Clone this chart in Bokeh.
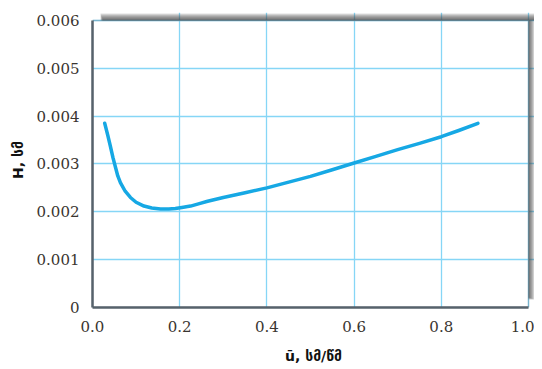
from bokeh.plotting import figure
from bokeh.models import Range1d, FixedTicker, BoxAnnotation
from bokeh.embed import file_html
from bokeh.resources import INLINE

# ---- data ----
u_vals = [0.028, 0.035, 0.041, 0.047, 0.053, 0.058, 0.064, 0.075, 0.087, 0.100,
          0.118, 0.136, 0.156, 0.175, 0.19, 0.205, 0.225, 0.245, 0.264,
          0.30, 0.35, 0.40, 0.45, 0.50, 0.55, 0.60, 0.65, 0.70, 0.75, 0.80, 0.84, 0.884]
h_vals = [0.00385, 0.00360, 0.00337, 0.00313, 0.00292, 0.00275, 0.00261, 0.00243, 0.00230, 0.00220,
          0.00212, 0.00208, 0.00206, 0.00206, 0.00207, 0.00209, 0.00212, 0.00217, 0.00222,
          0.00230, 0.00240, 0.00250, 0.00262, 0.00274, 0.00288, 0.00302, 0.00316, 0.00330, 0.00343, 0.00357, 0.00370, 0.00385]
x_ticks = [0.0, 0.2, 0.4, 0.6, 0.8, 1.0]
x_tick_labels = ["0.0", "0.2", "0.4", "0.6", "0.8", "1.0"]
y_ticks = [0.0, 0.001, 0.002, 0.003, 0.004, 0.005, 0.006]
y_tick_labels = ["0", "0.001", "0.002", "0.003", "0.004", "0.005", "0.006"]
x_label = "ū, სმ/წმ"
y_label = "H, სმ"

X_MAX, Y_MAX = 1.0, 0.006
FRAME_W, FRAME_H = 436, 289      # pixel size of the plot box
PAD_X, PAD_Y = 6, 8               # extra frame room for the drop shadow
dx = X_MAX / FRAME_W
dy = Y_MAX / FRAME_H

p = figure(width=534, height=366, output_backend="svg", toolbar_location=None,
           x_range=Range1d(0, X_MAX + PAD_X * dx), y_range=Range1d(0, Y_MAX + PAD_Y * dy),
           min_border_left=92, min_border_right=0, min_border_top=12, min_border_bottom=57)
p.outline_line_color = None
p.background_fill_color = "white"
p.border_fill_color = "white"

# drop shadow (top and right strips), darker near the box
for k in range(1, 8):
    p.add_layout(BoxAnnotation(left=8 * dx + (7 - k) * 0.4 * dx, right=X_MAX + 6 * dx,
                               bottom=Y_MAX, top=Y_MAX + k * dy,
                               fill_color="#444444", fill_alpha=0.17, line_color=None,
                               level="underlay"))
for k in range(1, 7):
    p.add_layout(BoxAnnotation(left=X_MAX, right=X_MAX + k * dx,
                               bottom=8 * dy + (6 - k) * 0.4 * dy, top=Y_MAX,
                               fill_color="#444444", fill_alpha=0.18, line_color=None,
                               level="underlay"))

# grid
p.xgrid.ticker = FixedTicker(ticks=x_ticks)
p.ygrid.ticker = FixedTicker(ticks=y_ticks)
for g in (p.xgrid, p.ygrid):
    g.grid_line_color = "#86d6f6"
    g.grid_line_width = 1.3
p.xgrid.bounds = (0, Y_MAX)
p.ygrid.bounds = (0, X_MAX)

# box outline (top/right); left/bottom come from the axis lines
p.add_layout(BoxAnnotation(left=0, right=X_MAX, bottom=0, top=Y_MAX,
                           fill_color=None, line_color="#56626b", line_width=1.5))

# curve
p.line(u_vals, h_vals, line_color="#16a8e4", line_width=3.5,
       line_cap="round", line_join="round")

# axes
for ax in (p.xaxis[0], p.yaxis[0]):
    ax.axis_line_color = "#56626b"
    ax.axis_line_width = 2.5
    ax.major_tick_line_color = None
    ax.minor_tick_line_color = None
    ax.major_label_text_font = "DejaVu Serif"
    ax.major_label_text_font_size = "15px"
    ax.major_label_text_color = "#3a3530"
    ax.axis_label_text_font = "DejaVu Sans"
    ax.axis_label_text_font_style = "bold"
    ax.axis_label_text_font_size = "14px"
    ax.axis_label_text_color = "#111111"

p.xaxis.bounds = (0, X_MAX)
p.yaxis.bounds = (0, Y_MAX)

p.xaxis.ticker = FixedTicker(ticks=x_ticks)
p.xaxis.major_label_overrides = dict(zip(x_ticks, x_tick_labels))
p.xaxis.major_label_standoff = 7
p.xaxis.axis_label = x_label
p.xaxis.axis_label_standoff = 13

p.yaxis.ticker = FixedTicker(ticks=y_ticks)
p.yaxis.major_label_overrides = dict(zip(y_ticks, y_tick_labels))
p.yaxis.major_label_standoff = 7
p.yaxis.axis_label = y_label
p.yaxis.axis_label_standoff = 8

open("out.html", "w").write(file_html(p, INLINE))
